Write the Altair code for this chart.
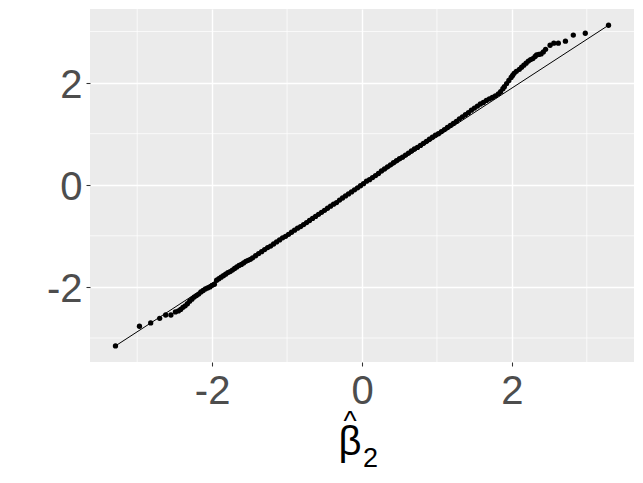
import altair as alt
import pandas as pd

# Theoretical normal quantiles (x) and sample quantiles (y)
theoretical = [
    -3.29, -2.97, -2.82, -2.70, -2.62, -2.55,
    -2.49, -2.45, -2.42, -2.39, -2.36, -2.33, -2.30, -2.27, -2.24, -2.21,
    -2.18, -2.15, -2.12, -2.09, -2.06, -2.03, -2.00, -1.97, -1.94, -1.91,
    -1.88, -1.85, -1.82, -1.79, -1.76, -1.73, -1.70, -1.67, -1.64, -1.61,
    -1.58, -1.55, -1.52, -1.49, -1.46,
    -1.42, -1.38, -1.34, -1.30, -1.26, -1.22, -1.18, -1.14, -1.10, -1.06,
    -1.02, -0.98, -0.94, -0.90, -0.86, -0.82, -0.78, -0.74, -0.70, -0.66,
    -0.62, -0.58, -0.54, -0.50, -0.46, -0.42, -0.38, -0.34, -0.30, -0.26,
    -0.22, -0.18, -0.14, -0.10, -0.06, -0.02,
    0.02, 0.06, 0.10, 0.14, 0.18, 0.22, 0.26, 0.30, 0.34, 0.38,
    0.42, 0.46, 0.50, 0.54, 0.58, 0.62, 0.66, 0.70, 0.74, 0.78,
    0.82, 0.86, 0.90, 0.94, 0.98, 1.02, 1.06, 1.10, 1.14, 1.18,
    1.22, 1.26, 1.30, 1.34, 1.38, 1.42,
    1.46, 1.50, 1.54, 1.58, 1.62, 1.66, 1.70, 1.74, 1.78, 1.82,
    1.85, 1.88, 1.90, 1.93, 1.96, 1.99, 2.01, 2.03, 2.06, 2.10,
    2.13, 2.16, 2.19, 2.22, 2.25, 2.28, 2.31, 2.33, 2.36, 2.39,
    2.42, 2.45, 2.51, 2.56, 2.62, 2.715, 2.82, 2.98, 3.29,
]
sample = [
    -3.155, -2.77, -2.705, -2.615, -2.55, -2.55,
    -2.49, -2.47, -2.44, -2.40, -2.37, -2.33, -2.28, -2.24, -2.20, -2.17,
    -2.14, -2.10, -2.07, -2.04, -2.02, -2.00, -1.97, -1.95, -1.87, -1.84,
    -1.81, -1.78, -1.75, -1.72, -1.70, -1.67, -1.64, -1.61, -1.58, -1.56,
    -1.53, -1.50, -1.48, -1.46, -1.43,
    -1.39, -1.35, -1.31, -1.27, -1.23, -1.20, -1.16, -1.12, -1.08, -1.04,
    -1.01, -0.97, -0.93, -0.89, -0.85, -0.82, -0.78, -0.74, -0.70, -0.66,
    -0.62, -0.58, -0.54, -0.50, -0.46, -0.42, -0.38, -0.35, -0.30, -0.26,
    -0.22, -0.18, -0.14, -0.10, -0.06, -0.02,
    0.02, 0.07, 0.10, 0.14, 0.18, 0.22, 0.27, 0.31, 0.35, 0.39,
    0.43, 0.47, 0.51, 0.54, 0.58, 0.62, 0.66, 0.70, 0.73, 0.77,
    0.81, 0.85, 0.89, 0.93, 0.97, 1.00, 1.04, 1.08, 1.12, 1.16,
    1.20, 1.24, 1.29, 1.33, 1.37, 1.41,
    1.46, 1.50, 1.54, 1.58, 1.61, 1.65, 1.68, 1.71, 1.74, 1.78,
    1.82, 1.88, 1.92, 1.98, 2.04, 2.10, 2.14, 2.18, 2.22, 2.26,
    2.30, 2.34, 2.38, 2.42, 2.45, 2.47, 2.51, 2.54, 2.55, 2.56,
    2.60, 2.65, 2.73, 2.77, 2.77, 2.81, 2.93, 2.965, 3.122,
]

# Reference line endpoints
line_x = [-3.29, 3.29]
line_y = [-3.155, 3.122]

major_breaks = [-2, 0, 2]
minor_breaks = [-3, -1, 1, 3]

# x-axis title pieces: hat, beta, subscript 2
title_hat = ["^"]
title_main = ["β"]
title_sub = ["2"]

pts = pd.DataFrame({"x": theoretical, "y": sample})
ln = pd.DataFrame({"x": line_x, "y": line_y})
minor_x = pd.DataFrame({"x": minor_breaks})
minor_y = pd.DataFrame({"y": minor_breaks})

W, H = 544, 353

xscale = alt.Scale(domain=[-3.63, 3.63], nice=False, zero=False)
yscale = alt.Scale(domain=[-3.47, 3.44], nice=False, zero=False)

xaxis = alt.Axis(values=major_breaks, title=None, labelPadding=5,
                 labelExpr="'' + datum.value")
yaxis = alt.Axis(values=major_breaks, title=None, labelPadding=4,
                 labelOffset=3, labelExpr="'' + datum.value")

X = alt.X("x:Q", scale=xscale, axis=xaxis)
Y = alt.Y("y:Q", scale=yscale, axis=yaxis)

grid_x = alt.Chart(minor_x).mark_rule(color="white", strokeWidth=0.7).encode(x=X)
grid_y = alt.Chart(minor_y).mark_rule(color="white", strokeWidth=0.7).encode(y=Y)
qqline = alt.Chart(ln).mark_line(color="black", strokeWidth=1).encode(x=X, y=Y)
points = alt.Chart(pts).mark_circle(color="black", size=28, opacity=1).encode(x=X, y=Y)

cx = W / 2 - 12
hat = alt.Chart(pd.DataFrame({"t": title_hat})).mark_text(
    font="Liberation Sans", fontSize=28, color="black", align="center", baseline="alphabetic"
).encode(text="t:N", x=alt.value(cx), y=alt.value(H + 68))
beta = alt.Chart(pd.DataFrame({"t": title_main})).mark_text(
    font="Liberation Sans", fontSize=40, color="black", align="center", baseline="alphabetic"
).encode(text="t:N", x=alt.value(cx), y=alt.value(H + 93))
sub = alt.Chart(pd.DataFrame({"t": title_sub})).mark_text(
    font="Liberation Sans", fontSize=27, color="black", align="left", baseline="alphabetic"
).encode(text="t:N", x=alt.value(cx + 13), y=alt.value(H + 105))

chart = (
    alt.layer(grid_x, grid_y, qqline, points, hat, beta, sub)
    .properties(
        width=W,
        height=H,
        padding={"left": 38, "top": 0, "right": 0, "bottom": 0},
        background="white",
    )
    .configure_view(fill="#EBEBEB", strokeWidth=0)
    .configure_axis(
        domain=False,
        grid=True,
        gridColor="white",
        gridWidth=1.4,
        tickColor="#333333",
        tickSize=4,
        tickWidth=1.07,
        labelFont="Liberation Sans",
        labelFontSize=40,
        labelColor="#4D4D4D",
    )
)

chart.save("out.html", embed_options={"renderer": "svg", "actions": False})
